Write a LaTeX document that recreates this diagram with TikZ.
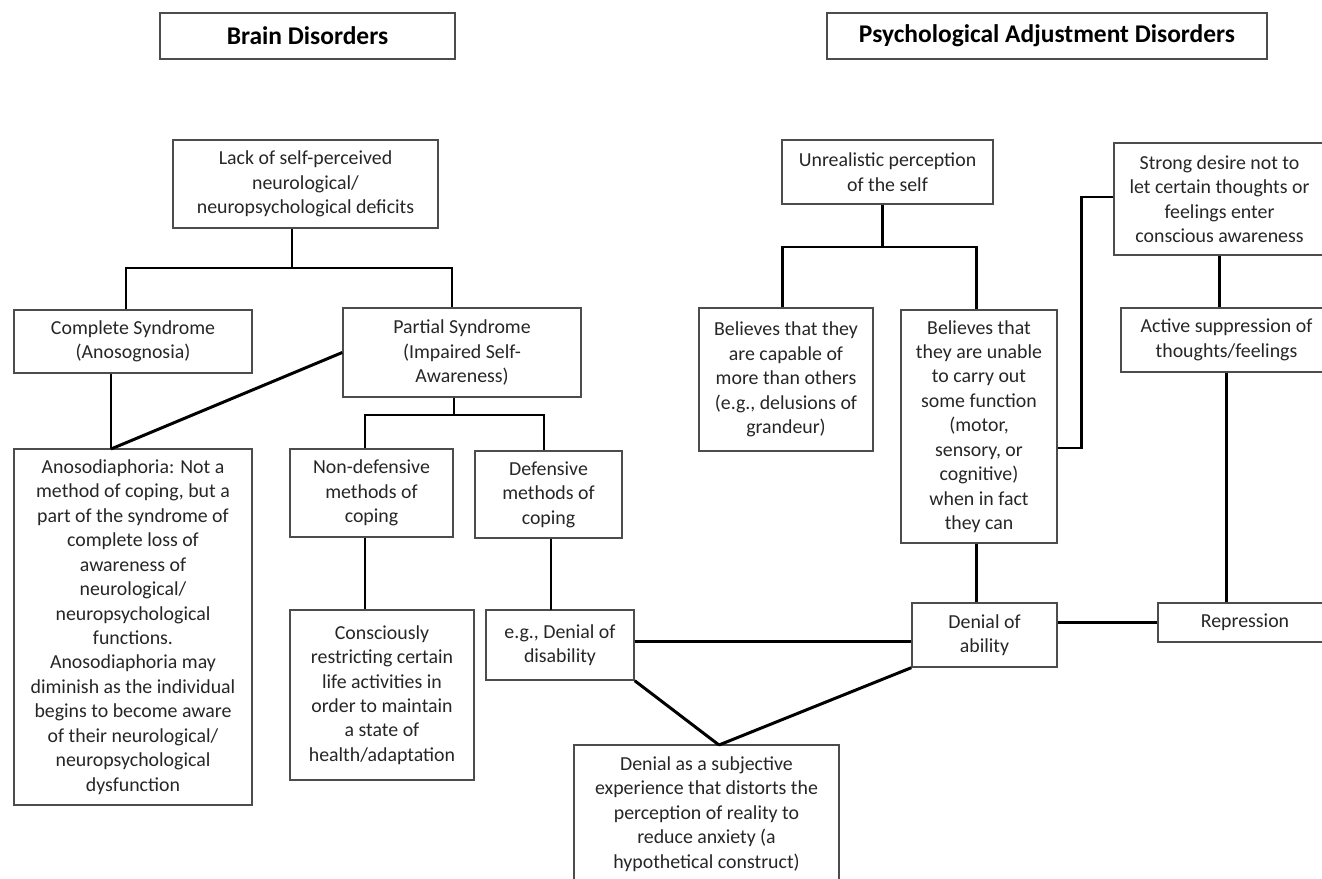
\documentclass[tikz,border=0pt]{standalone}
\usepackage{fontspec}
\setmainfont{Carlito}
\usepackage{tikz}

\tikzset{
  box/.style 2 args={draw=black!70, line width=0.8pt, text=black!85, align=center, inner sep=0pt,
    minimum width=#1*0.02cm, minimum height=#2*0.02cm, font=\fontsize{11.3}{13.9}\selectfont},
  title/.style 2 args={box={#1}{#2}, text=black, font=\fontsize{14.5}{17}\selectfont\bfseries},
  link/.style={draw=black, line width=1.7pt}
}

\begin{document}
\begin{tikzpicture}[x=0.02cm,y=-0.02cm]
\useasboundingbox (0,0) rectangle (1322,879);
\clip (0,0) rectangle (1322,879);
\node[title={295}{46}] (brain) at (307.5,36) {Brain Disorders};
\node[title={440}{46}] (pad) at (1047,36) {Psychological Adjustment Disorders};
\node[box={265}{88}] (lack) at (305.5,184) {Lack of self-perceived\\neurological/\\neuropsychological deficits};
\node[box={238}{63}] (complete) at (133,341.5) {Complete Syndrome\\(Anosognosia)};
\node[box={238}{89}] (partial) at (462,352.5) {Partial Syndrome\\(Impaired Self-\\Awareness)};
\node[box={238}{356}] (anoso) at (133,627) {Anosodiaphoria: Not a\\method of coping, but a\\part of the syndrome of\\complete loss of\\awareness of\\neurological/\\neuropsychological\\functions.\\Anosodiaphoria may\\diminish as the individual\\begins to become aware\\of their neurological/\\neuropsychological\\dysfunction};
\node[box={163}{88}] (nondef) at (371.5,493) {Non-defensive\\methods of\\coping};
\node[box={147}{87}] (def) at (548.5,494.5) {Defensive\\methods of\\coping};
\node[box={184}{170}] (consc) at (382,695) {Consciously\\restricting certain\\life activities in\\order to maintain\\a state of\\health/adaptation};
\node[box={148}{70}] (egden) at (560,645) {e.g., Denial of\\disability};
\node[box={265}{138}] (subj) at (706.5,814) {Denial as a subjective\\experience that distorts the\\perception of reality to\\reduce anxiety (a\\hypothetical construct)};
\node[box={211}{64}] (unreal) at (887.5,172) {Unrealistic perception\\of the self};
\node[box={211}{112}] (strong) at (1219.5,199) {Strong desire not to\\let certain thoughts or\\feelings enter\\conscious awareness};
\node[box={174}{143}] (capable) at (786,379.5) {Believes that they\\are capable of\\more than others\\(e.g., delusions of\\grandeur)};
\node[box={156}{233}] (unable) at (979,426.5) {Believes that\\they are unable\\to carry out\\some function\\(motor,\\sensory, or\\cognitive)\\when in fact\\they can};
\node[box={211}{64}] (active) at (1226.5,340) {Active suppression of\\thoughts/feelings};
\node[box={145}{64}] (ability) at (984.5,635) {Denial of\\ability};
\node[box={174}{39}] (repress) at (1245,622.5) {Repression};

\coordinate (b1) at (292,268);
\coordinate (b1l) at (126,268);
\coordinate (b1r) at (452,268);
\coordinate (b2) at (454,415);
\coordinate (b2l) at (365,415);
\coordinate (b2r) at (544,415);
\coordinate (b3) at (882,247);
\coordinate (b3l) at (782,247);
\coordinate (b3r) at (976,247);
\coordinate (a1) at (111,449);
\coordinate (a2) at (719,745);
\coordinate (k1) at (1081,197);
\coordinate (k2) at (1081,448);
\coordinate (k3) at (773,641);
\coordinate (d1) at (551,610);

\draw[link] (lack.south -| b1) -- (b1);
\draw[link] (complete.north -| b1l) -- (b1l) -- (b1r) -- (partial.north -| b1r);
\draw[link] (complete.south -| a1) -- (a1);
\draw[link] (partial.west) -- (a1);
\draw[link] (partial.south -| b2) -- (b2);
\draw[link] (nondef.north -| b2l) -- (b2l) -- (b2r) -- (def.north -| b2r);
\draw[link] (nondef.south -| b2l) -- (consc.north -| b2l);
\draw[link] (def.south -| d1) -- (d1);
\draw[link] (egden.east |- k3) -- (ability.west |- k3);
\draw[link] (egden.south east) -- (a2);
\draw[link] (ability.south west) -- (a2);
\draw[link] (unreal.south -| b3) -- (b3);
\draw[link] (capable.north -| b3l) -- (b3l) -- (b3r) -- (unable.north -| b3r);
\draw[link] (unable.south -| b3r) -- (ability.north -| b3r);
\draw[link] (unable.east |- k2) -- (k2) -- (k1) -- (strong.west |- k1);
\draw[link] (strong.south) -- (strong.south |- active.north);
\draw[link] (active.south) -- (active.south |- repress.north);
\draw[link] (repress.west) -- (repress.west -| ability.east);
\end{tikzpicture}
\end{document}
